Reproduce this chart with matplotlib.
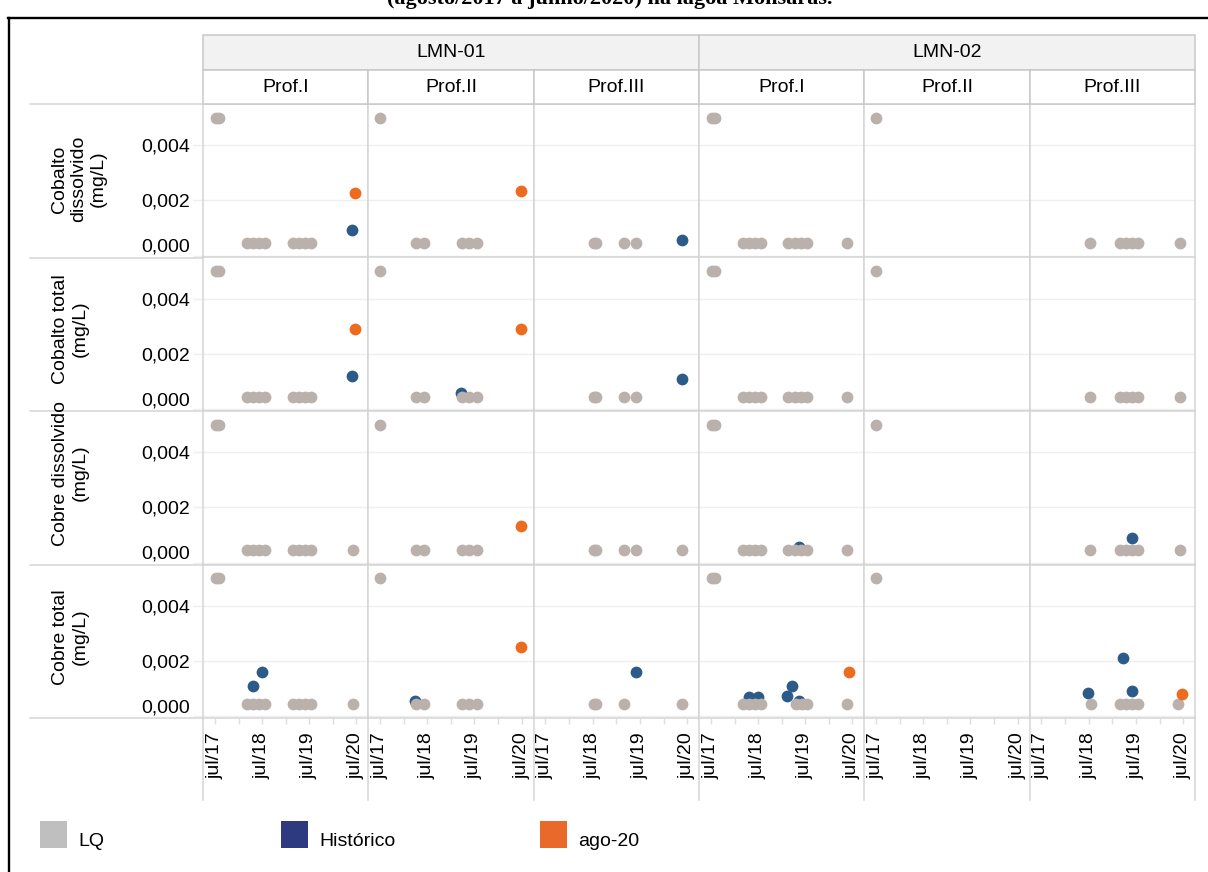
import matplotlib
matplotlib.use("Agg")
import matplotlib.pyplot as plt
from matplotlib.patches import Rectangle
from matplotlib.lines import Line2D
import pandas as pd

plt.rcParams['font.family'] = ['Liberation Sans', 'DejaVu Sans']

W, H = 1208, 872

# ---------------- dados ----------------
estacoes = ['LMN-01', 'LMN-02']
profundidades = ['Prof.I', 'Prof.II', 'Prof.III']
parametros = ['Cobalto\ndissolvido\n(mg/L)', 'Cobalto total\n(mg/L)',
              'Cobre dissolvido\n(mg/L)', 'Cobre total\n(mg/L)']

y_ticks = [0.0, 0.002, 0.004]
y_ticklabels = ['0,000', '0,002', '0,004']
x_ticks = ['2017-07-01', '2018-07-01', '2019-07-01', '2020-07-01']
x_ticklabels = ['jul/17', 'jul/18', 'jul/19', 'jul/20']
x_minor = ['2018-01-01', '2019-01-01', '2020-01-01']

lq_alto = 0.005
lq_baixo = 0.00045

# colunas: LMN-01 I, II, III, LMN-02 I, II, III
lq_alto_datas = [['2017-07-07', '2017-08-01'], ['2017-07-04'], [],
                 ['2017-07-07', '2017-08-01'], ['2017-07-04'], []]

lq_cobalto_dis = [
    ['2018-03-04', '2018-04-19', '2018-06-07', '2018-07-25', '2019-02-26', '2019-04-16', '2019-06-01', '2019-07-19'],
    ['2018-04-01', '2018-06-04', '2019-03-25', '2019-05-22', '2019-07-22'],
    ['2018-07-10', '2018-07-29', '2019-03-01', '2019-06-01'],
    ['2018-03-04', '2018-04-19', '2018-06-07', '2018-07-26', '2019-02-15', '2019-04-16', '2019-06-01', '2019-07-19', '2020-05-23'],
    [],
    ['2018-07-13', '2019-02-26', '2019-04-16', '2019-06-01', '2019-07-16', '2020-06-07'],
]
lq_cobalto_tot = [
    ['2018-03-04', '2018-04-19', '2018-06-07', '2018-07-25', '2019-02-26', '2019-04-16', '2019-06-01', '2019-07-19'],
    ['2018-04-01', '2018-06-04', '2019-03-25', '2019-05-22', '2019-07-22'],
    ['2018-07-10', '2018-07-29', '2019-03-01', '2019-06-01'],
    ['2018-03-04', '2018-04-19', '2018-06-07', '2018-07-26', '2019-02-15', '2019-04-16', '2019-06-01', '2019-07-19', '2020-05-23'],
    [],
    ['2018-07-13', '2019-02-26', '2019-04-16', '2019-06-01', '2019-07-16', '2020-06-07'],
]
lq_cobre_dis = [
    ['2018-03-04', '2018-04-19', '2018-06-07', '2018-07-25', '2019-02-26', '2019-04-16', '2019-06-01', '2019-07-19', '2020-06-07'],
    ['2018-04-01', '2018-06-04', '2019-03-25', '2019-05-22', '2019-07-22'],
    ['2018-07-10', '2018-07-29', '2019-03-01', '2019-06-01', '2020-05-25'],
    ['2018-03-04', '2018-04-19', '2018-06-07', '2018-07-26', '2019-02-15', '2019-04-16', '2019-06-01', '2019-07-19', '2020-05-23'],
    [],
    ['2018-07-13', '2019-02-26', '2019-04-16', '2019-06-01', '2019-07-16', '2020-06-07'],
]
lq_cobre_tot = [
    ['2018-03-04', '2018-04-19', '2018-06-07', '2018-07-25', '2019-02-26', '2019-04-16', '2019-06-01', '2019-07-19', '2020-06-07'],
    ['2018-04-01', '2018-06-04', '2019-03-25', '2019-05-22', '2019-07-22'],
    ['2018-07-10', '2018-07-29', '2019-03-01', '2020-05-25'],
    ['2018-03-04', '2018-04-19', '2018-06-07', '2018-07-26', '2019-04-22', '2019-06-07', '2019-07-19', '2020-05-23'],
    [],
    ['2018-07-22', '2019-02-26', '2019-04-16', '2019-06-01', '2019-07-16', '2020-05-23'],
]

# (coluna, data, valor)
hist_cobalto_dis = [(0, '2020-05-25', 0.00094), (2, '2020-05-25', 0.00056)]
hist_cobalto_tot = [(0, '2020-05-25', 0.0012), (1, '2019-03-22', 0.0006), (2, '2020-05-25', 0.00108)]
hist_cobre_dis = [(3, '2019-05-12', 0.00058), (5, '2019-06-01', 0.0009)]
hist_cobre_tot = [(0, '2018-04-23', 0.0011), (0, '2018-06-29', 0.0016), (1, '2018-03-28', 0.00053),
                  (2, '2019-06-01', 0.0016), (3, '2018-04-19', 0.0007), (3, '2018-06-29', 0.0007),
                  (3, '2019-02-13', 0.00072), (3, '2019-03-25', 0.0011), (3, '2019-05-16', 0.00054),
                  (5, '2018-06-29', 0.00085), (5, '2019-03-22', 0.0021), (5, '2019-06-01', 0.0009)]

ago_cobalto_dis = [(0, '2020-06-19', 0.00227), (1, '2020-06-22', 0.00234)]
ago_cobalto_tot = [(0, '2020-06-19', 0.0029), (1, '2020-06-22', 0.0029)]
ago_cobre_dis = [(1, '2020-06-22', 0.00133)]
ago_cobre_tot = [(1, '2020-06-22', 0.0025), (3, '2020-06-07', 0.0016), (5, '2020-06-22', 0.0008)]

lq_linhas = [lq_cobalto_dis, lq_cobalto_tot, lq_cobre_dis, lq_cobre_tot]
hist_linhas = [hist_cobalto_dis, hist_cobalto_tot, hist_cobre_dis, hist_cobre_tot]
ago_linhas = [ago_cobalto_dis, ago_cobalto_tot, ago_cobre_dis, ago_cobre_tot]

cor_lq = '#bab0ac'
cor_hist = '#2c5b8a'
cor_ago = '#ec6b1f'
cor_borda = '#d4d4d4'

# ---------------- layout (pixels) ----------------
x0, cw = 203, (1195 - 203) / 6
y0, rh = 104, (718 - 104) / 4


def fx(px):
    return px / W


def fy(py):
    return 1 - py / H


fig = plt.figure(figsize=(W / 100, H / 100), dpi=100)

xlim = (pd.Timestamp('2017-04-01'), pd.Timestamp('2020-10-01'))

for r in range(4):
    for c in range(6):
        left = x0 + c * cw
        top = y0 + r * rh
        ax = fig.add_axes([fx(left), fy(top + rh), cw / W, rh / H])
        ax.set_xlim(*xlim)
        ax.set_ylim(-0.00007, 0.0055)
        for s in ax.spines.values():
            s.set_color(cor_borda)
            s.set_linewidth(1.1)
        ax.set_yticks(y_ticks)
        ax.grid(axis='y', color='#efefef', lw=1.0)
        ax.set_axisbelow(True)
        ax.set_xticks(pd.to_datetime(x_ticks))
        ax.set_xticks(pd.to_datetime(x_minor), minor=True)
        ax.tick_params(axis='x', which='both', length=4, color='#dedede', width=1)
        ax.tick_params(axis='y', length=7, color='#efefef', width=1, pad=2.5, labelsize=14)
        if c == 0:
            ax.set_yticklabels(y_ticklabels)
            ax.get_yticklabels()[0].set_va('bottom')
        else:
            ax.set_yticklabels([])
            ax.tick_params(axis='y', length=0)
        if r == 3:
            ax.set_xticklabels(x_ticklabels, rotation=90, va='top', ha='center', fontsize=14)
            ax.tick_params(axis='x', pad=6)
        else:
            ax.set_xticklabels([])

        # historico (atrás)
        pts = [p for p in hist_linhas[r] if p[0] == c]
        if pts:
            ax.scatter(pd.to_datetime([p[1] for p in pts]), [p[2] for p in pts],
                       s=72, color=cor_hist, lw=0, zorder=2, clip_on=False)
        # LQ
        datas = lq_alto_datas[c] + lq_linhas[r][c]
        vals = [lq_alto] * len(lq_alto_datas[c]) + [lq_baixo] * len(lq_linhas[r][c])
        if datas:
            ax.scatter(pd.to_datetime(datas), vals, s=72, color=cor_lq, lw=0, zorder=3, clip_on=False)
        # ago-20
        pts = [p for p in ago_linhas[r] if p[0] == c]
        if pts:
            ax.scatter(pd.to_datetime([p[1] for p in pts]), [p[2] for p in pts],
                       s=72, color=cor_ago, lw=0, zorder=4, clip_on=False)

# ---------------- cabeçalhos ----------------
for i, est in enumerate(estacoes):
    l = x0 + i * 3 * cw
    fig.patches.append(Rectangle((fx(l), fy(70)), 3 * cw / W, 35 / H, transform=fig.transFigure,
                                 facecolor='#f2f2f2', edgecolor='#c8c8c8', lw=1.1))
    fig.text(fx(l + 1.5 * cw), fy(52.5), est, ha='center', va='center', fontsize=14)
for c in range(6):
    l = x0 + c * cw
    fig.patches.append(Rectangle((fx(l), fy(104)), cw / W, 34 / H, transform=fig.transFigure,
                                 facecolor='white', edgecolor='#c8c8c8', lw=1.1))
    fig.text(fx(l + cw / 2), fy(87), profundidades[c % 3], ha='center', va='center', fontsize=14)

# linhas das linhas (lado esquerdo) e colunas (área do eixo x)
for r in range(5):
    yy = y0 + r * rh
    fig.add_artist(Line2D([fx(30), fx(x0)], [fy(yy), fy(yy)], color=cor_borda, lw=1.1))
for c in range(7):
    xx = x0 + c * cw
    fig.add_artist(Line2D([fx(xx), fx(xx)], [fy(718), fy(800)], color=cor_borda, lw=1.1))

# títulos das linhas
ylab_pos = [(79, 179), (70, 329), (70, 473), (70, 637)]
for r, txt in enumerate(parametros):
    fig.text(fx(ylab_pos[r][0]), fy(ylab_pos[r][1]), txt, rotation=90, ha='center', va='center',
             multialignment='center', fontsize=14)

# ---------------- legenda ----------------
legenda = [('LQ', '#bfbfbf', 40, 78), ('Histórico', '#2e3a80', 281, 319), ('ago-20', '#e8692a', 540, 578)]
for nome, cor, xq, xt in legenda:
    fig.patches.append(Rectangle((fx(xq), fy(848)), 27 / W, 27 / H, transform=fig.transFigure,
                                 facecolor=cor, edgecolor='none'))
    fig.text(fx(xt), fy(841), nome, ha='left', va='center', fontsize=14)

# moldura e título cortado (só a parte de baixo aparece)
fig.add_artist(Line2D([fx(8.5), fx(8.5)], [fy(18), 0], color='black', lw=1.7))
fig.add_artist(Line2D([fx(8), 1], [fy(18.5), fy(18.5)], color='black', lw=1.7))
fig.text(fx(610), fy(4), '(agosto/2017 a junho/2020) na lagoa Monsaras.', ha='center', va='baseline',
         fontsize=16, fontweight='bold', family='Liberation Serif')

fig.savefig('out.png', dpi=100)
